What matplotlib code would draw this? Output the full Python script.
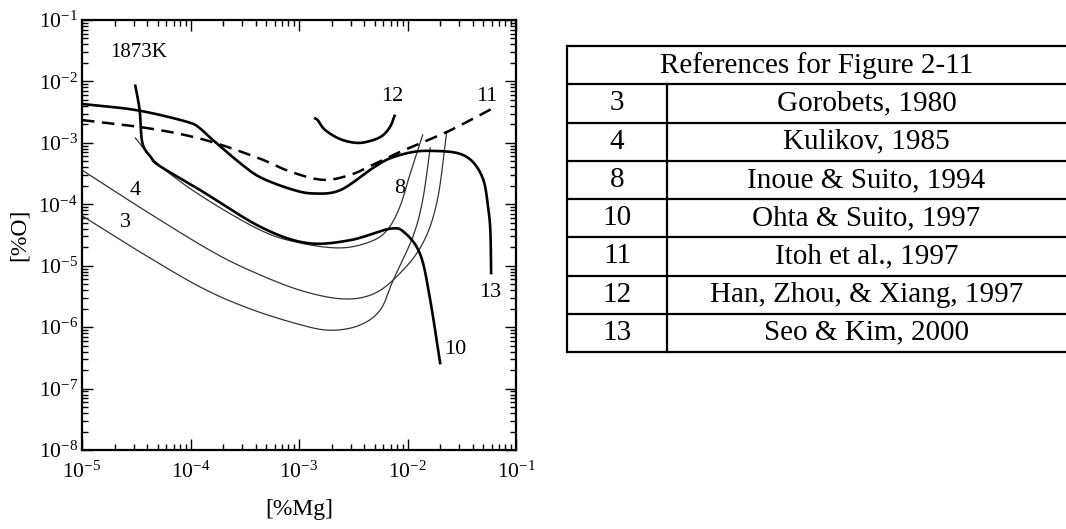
import matplotlib
matplotlib.use("Agg")
import matplotlib.pyplot as plt
import numpy as np

plt.rcParams['font.family'] = ['Liberation Serif', 'DejaVu Serif']
plt.rcParams['mathtext.fontset'] = 'stix'
plt.rcParams['axes.unicode_minus'] = False

# curve 3 (Gorobets, 1980)
mg3 = [1.0e-5, 3.2e-5, 1.23e-4, 3.5e-4, 1.02e-3, 1.95e-3, 3.6e-3, 5.6e-3, 7.4e-3, 1.12e-2, 1.38e-2, 1.62e-2]
o3 = [6.5e-5, 1.8e-5, 4.5e-6, 2.0e-6, 1.1e-6, 8.9e-7, 1.07e-6, 1.9e-6, 5.9e-6, 2.95e-5, 1.17e-4, 8.3e-4]

# curve 4 (Kulikov, 1985)
mg4 = [1.0e-5, 4.3e-5, 1.62e-4, 4.0e-4, 1.02e-3, 2.4e-3, 4.5e-3, 7.4e-3, 1.32e-2, 1.86e-2, 2.3e-2]
o4 = [3.6e-4, 6.9e-5, 1.66e-5, 7.6e-6, 4.0e-6, 2.9e-6, 3.3e-6, 5.9e-6, 2.0e-5, 1.05e-4, 1.5e-3]

# curve 8 (Inoue & Suito, 1994)
mg8 = [3.1e-5, 4.9e-5, 1.23e-4, 4.4e-4, 1.02e-3, 2.4e-3, 4.5e-3, 6.5e-3, 8.5e-3, 1.05e-2, 1.38e-2]
o8 = [1.2e-3, 4.7e-4, 1.4e-4, 3.8e-5, 2.35e-5, 1.95e-5, 2.45e-5, 3.8e-5, 9.1e-5, 3.0e-4, 1.35e-3]

# curve 10 (Ohta & Suito, 1997)
mg10 = [3.1e-5, 3.4e-5, 3.6e-5, 4.3e-5, 5.2e-5, 1.23e-4, 4.4e-4, 1.17e-3, 2.95e-3, 6.9e-3, 9.5e-3, 1.32e-2, 1.62e-2, 2.0e-2]
o10 = [8.5e-3, 3.4e-3, 1.0e-3, 5.9e-4, 4.2e-4, 1.7e-4, 4.3e-5, 2.35e-5, 2.6e-5, 4.0e-5, 3.4e-5, 1.48e-5, 2.75e-6, 2.6e-7]

# curve 11 (Itoh et al., 1997), dashed
mg11 = [1.0e-5, 3.0e-5, 7.2e-5, 1.62e-4, 4.4e-4, 8.3e-4, 1.66e-3, 2.95e-3, 4.8e-3, 8.5e-3, 1.38e-2, 2.3e-2, 3.8e-2, 6.2e-2]
o11 = [2.35e-3, 1.87e-3, 1.45e-3, 1.02e-3, 5.5e-4, 3.4e-4, 2.5e-4, 3.0e-4, 4.4e-4, 7.1e-4, 1.02e-3, 1.5e-3, 2.35e-3, 3.7e-3]

# curve 12 (Han, Zhou, & Xiang, 1997)
mg12 = [1.41e-3, 1.5e-3, 1.74e-3, 2.4e-3, 3.4e-3, 4.5e-3, 5.8e-3, 6.9e-3, 7.6e-3]
o12 = [2.5e-3, 2.3e-3, 1.62e-3, 1.15e-3, 1.0e-3, 1.07e-3, 1.29e-3, 1.82e-3, 2.75e-3]

# curve 13 (Seo & Kim, 2000)
mg13 = [1.0e-5, 3.2e-5, 9.3e-5, 1.23e-4, 1.62e-4, 2.9e-4, 4.4e-4, 8.3e-4, 1.35e-3, 2.4e-3, 4.8e-3, 6.9e-3,
        1.12e-2, 1.7e-2, 2.9e-2, 4.0e-2, 5.0e-2, 5.5e-2, 5.8e-2, 5.9e-2]
o13 = [4.3e-3, 3.4e-3, 2.2e-3, 1.7e-3, 1.1e-3, 4.6e-4, 2.75e-4, 1.78e-4, 1.5e-4, 1.7e-4, 3.9e-4, 5.6e-4,
       7.1e-4, 7.4e-4, 6.8e-4, 4.9e-4, 2.5e-4, 9.8e-5, 3.8e-5, 7.6e-6]

# curve labels
label_text = ['4', '3', '8', '12', '11', '13', '10']
label_x = [3.1e-5, 2.5e-5, 8.5e-3, 7.2e-3, 5.4e-2, 5.8e-2, 2.75e-2]
label_y = [1.7e-4, 5.0e-5, 1.8e-4, 5.6e-3, 5.6e-3, 3.7e-6, 4.3e-7]

# reference table
ref_ids = ['3', '4', '8', '10', '11', '12', '13']
ref_names = ['Gorobets, 1980', 'Kulikov, 1985', 'Inoue & Suito, 1994', 'Ohta & Suito, 1997',
             'Itoh et al., 1997', 'Han, Zhou, & Xiang, 1997', 'Seo & Kim, 2000']
table_title = 'References for Figure 2-11'


def smooth(xs, ys, n=12):
    # Catmull-Rom through the read points, in log space, only for drawing
    p = np.column_stack([np.log10(xs), np.log10(ys)])
    p = np.vstack([2 * p[0] - p[1], p, 2 * p[-1] - p[-2]])
    out = []
    t = np.linspace(0, 1, n, endpoint=False)[:, None]
    for i in range(1, len(p) - 2):
        p0, p1, p2, p3 = p[i - 1], p[i], p[i + 1], p[i + 2]
        seg = 0.5 * ((2 * p1) + (-p0 + p2) * t + (2 * p0 - 5 * p1 + 4 * p2 - p3) * t ** 2
                     + (-p0 + 3 * p1 - 3 * p2 + p3) * t ** 3)
        out.append(seg)
    out.append(p[-2][None, :])
    out = np.vstack(out)
    return 10 ** out[:, 0], 10 ** out[:, 1]


fig = plt.figure(figsize=(10.66, 5.29), dpi=100)
ax = fig.add_axes([82 / 1066, 79 / 529, 434 / 1066, 430 / 529])

thin = dict(color='#333333', lw=0.9)
thick = dict(color='black', lw=1.9)
ax.plot(*smooth(mg3, o3), **thin)
ax.plot(*smooth(mg4, o4), **thin)
ax.plot(*smooth(mg8, o8), **thin)
ax.plot(*smooth(mg10, o10), **thick)
ax.plot(*smooth(mg11, o11), color='black', lw=1.8, dashes=(5, 3))
ax.plot(*smooth(mg12, o12), **thick)
ax.plot(*smooth(mg13, o13), **thick)

for t, x, y in zip(label_text, label_x, label_y):
    ax.text(x, y, t, fontsize=16, ha='center', va='center')
ax.text(3.3e-5, 3.0e-2, '1873K', fontsize=15, ha='center', va='center')

ax.set_xscale('log')
ax.set_yscale('log')
ax.set_xlim(1e-5, 1e-1)
ax.set_ylim(1e-8, 1e-1)
ax.tick_params(which='both', direction='in', top=True, right=True, width=1)
ax.tick_params(which='major', length=8, labelsize=15.5)
ax.tick_params(axis='x', which='major', pad=8)
ax.tick_params(axis='y', which='major', pad=3)
ax.tick_params(which='minor', length=4)
ax.xaxis.set_major_locator(matplotlib.ticker.LogLocator(base=10, numticks=10))
ax.yaxis.set_major_locator(matplotlib.ticker.LogLocator(base=10, numticks=10))
ax.xaxis.set_minor_locator(matplotlib.ticker.LogLocator(base=10, subs=np.arange(2, 10), numticks=20))
ax.yaxis.set_minor_locator(matplotlib.ticker.LogLocator(base=10, subs=np.arange(2, 10), numticks=20))
ax.xaxis.set_minor_formatter(matplotlib.ticker.NullFormatter())
ax.yaxis.set_minor_formatter(matplotlib.ticker.NullFormatter())
for s in ax.spines.values():
    s.set_linewidth(1.6)
ax.set_xlabel('[%Mg]', fontsize=17, labelpad=12)
ax.set_ylabel('[%O]', fontsize=17, labelpad=6)

# table drawn as lines and text
tab = fig.add_axes([567 / 1066, 177 / 529, 499 / 1066, 306 / 529])
tab.set_xlim(0, 1)
tab.set_ylim(0, 8)
tab.axis('off')
div = (667 - 567) / 499
for i in range(9):
    tab.plot([0, 1], [i, i], color='black', lw=1.6, clip_on=False, solid_capstyle='butt')
tab.plot([0, 0], [0, 8], color='black', lw=1.6, clip_on=False)
tab.plot([div, div], [0, 7], color='black', lw=1.6, clip_on=False)
tab.text(0.5, 7.5, table_title, fontsize=21, ha='center', va='center')
for i, (rid, name) in enumerate(zip(ref_ids, ref_names)):
    yc = 6.5 - i
    tab.text(div / 2, yc, rid, fontsize=21, ha='center', va='center')
    tab.text((div + 1) / 2, yc, name, fontsize=21, ha='center', va='center')

fig.savefig('out.png', dpi=100)
